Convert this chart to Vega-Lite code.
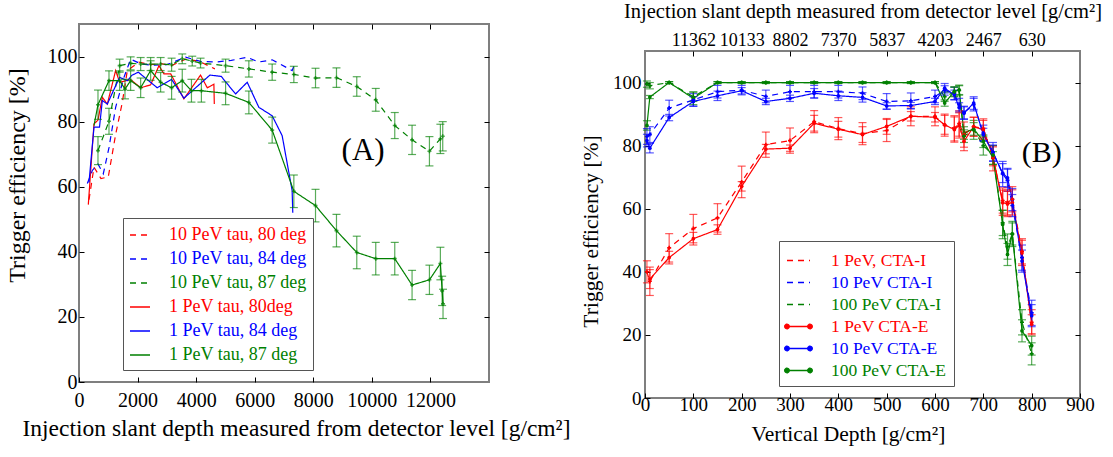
{
"$schema":"https://vega.github.io/schema/vega-lite/v6.json",
"background":"white",
"padding":{"left":4,"top":0,"right":0,"bottom":0},
"config":{
 "font":"Liberation Serif",
 "view":{"stroke":"#7f7f7f","strokeWidth":2},
 "axis":{"domain":false,"grid":false,"tickColor":"#000000","tickSize":-5,"tickWidth":1,"labelColor":"#000000","titleColor":"#000000","titleFontWeight":"normal","labelFont":"Liberation Serif","titleFont":"Liberation Serif","labelFlush":false,"labelOverlap":false,"labelBound":false},
 "legend":{"labelFont":"Liberation Serif","titleFont":"Liberation Serif"}
},
"datasets":{
"left":[
{"series":"10 PeV tau, 80 deg","x":341,"y":56},{"series":"10 PeV tau, 80 deg","x":512,"y":66},{"series":"10 PeV tau, 80 deg","x":750,"y":62.5},{"series":"10 PeV tau, 80 deg","x":1000,"y":63},{"series":"10 PeV tau, 80 deg","x":1250,"y":76},{"series":"10 PeV tau, 80 deg","x":1480,"y":86},{"series":"10 PeV tau, 80 deg","x":1650,"y":95.7},{"series":"10 PeV tau, 80 deg","x":2047,"y":98.3},{"series":"10 PeV tau, 80 deg","x":2450,"y":97.5},{"series":"10 PeV tau, 80 deg","x":2790,"y":97.8},{"series":"10 PeV tau, 80 deg","x":3160,"y":97.2},{"series":"10 PeV tau, 80 deg","x":3640,"y":99.2},{"series":"10 PeV tau, 80 deg","x":4094,"y":98.6},{"series":"10 PeV tau, 80 deg","x":4640,"y":96.2},
{"series":"10 PeV tau, 84 deg","x":284,"y":61},{"series":"10 PeV tau, 84 deg","x":455,"y":65},{"series":"10 PeV tau, 84 deg","x":648,"y":67},{"series":"10 PeV tau, 84 deg","x":830,"y":64},{"series":"10 PeV tau, 84 deg","x":1024,"y":72},{"series":"10 PeV tau, 84 deg","x":1251,"y":84.4},{"series":"10 PeV tau, 84 deg","x":1535,"y":93.6},{"series":"10 PeV tau, 84 deg","x":1763,"y":99.2},{"series":"10 PeV tau, 84 deg","x":2100,"y":97.8},{"series":"10 PeV tau, 84 deg","x":2500,"y":97.3},{"series":"10 PeV tau, 84 deg","x":3000,"y":97.5},{"series":"10 PeV tau, 84 deg","x":3640,"y":99.8},{"series":"10 PeV tau, 84 deg","x":4150,"y":98.5},{"series":"10 PeV tau, 84 deg","x":4650,"y":98.3},{"series":"10 PeV tau, 84 deg","x":5200,"y":98.8},{"series":"10 PeV tau, 84 deg","x":5744,"y":99.8},{"series":"10 PeV tau, 84 deg","x":6130,"y":98.3},{"series":"10 PeV tau, 84 deg","x":6596,"y":99},{"series":"10 PeV tau, 84 deg","x":7278,"y":95.7},{"series":"10 PeV tau, 84 deg","x":7336,"y":97},
{"series":"10 PeV tau, 87 deg","x":648,"y":71.1,"err":4.3},{"series":"10 PeV tau, 87 deg","x":1024,"y":80.1,"err":4},{"series":"10 PeV tau, 87 deg","x":1388,"y":97.2,"err":2},{"series":"10 PeV tau, 87 deg","x":1763,"y":97.9,"err":2},{"series":"10 PeV tau, 87 deg","x":2105,"y":97.7,"err":2},{"series":"10 PeV tau, 87 deg","x":2446,"y":97.7,"err":2},{"series":"10 PeV tau, 87 deg","x":2787,"y":97.7,"err":2},{"series":"10 PeV tau, 87 deg","x":3162,"y":97.5,"err":2},{"series":"10 PeV tau, 87 deg","x":3526,"y":99.3,"err":1.5},{"series":"10 PeV tau, 87 deg","x":3867,"y":98.6,"err":1.5},{"series":"10 PeV tau, 87 deg","x":4150,"y":98,"err":1.5},{"series":"10 PeV tau, 87 deg","x":5005,"y":97.2,"err":2},{"series":"10 PeV tau, 87 deg","x":5800,"y":96.2,"err":2.5},{"series":"10 PeV tau, 87 deg","x":6596,"y":95.2,"err":2.5},{"series":"10 PeV tau, 87 deg","x":7336,"y":94.5,"err":2.5},{"series":"10 PeV tau, 87 deg","x":8076,"y":93.4,"err":3},{"series":"10 PeV tau, 87 deg","x":8792,"y":93.5,"err":3},{"series":"10 PeV tau, 87 deg","x":9485,"y":90.8,"err":3},{"series":"10 PeV tau, 87 deg","x":10133,"y":86.7,"err":3.5},{"series":"10 PeV tau, 87 deg","x":10782,"y":78.8,"err":4},{"series":"10 PeV tau, 87 deg","x":11373,"y":74.4,"err":4.5},{"series":"10 PeV tau, 87 deg","x":11966,"y":70.9,"err":4.5},{"series":"10 PeV tau, 87 deg","x":12340,"y":74.7,"err":4.5},{"series":"10 PeV tau, 87 deg","x":12420,"y":75.5,"err":4.5},
{"series":"1 PeV tau, 80deg","x":318,"y":54.5},{"series":"1 PeV tau, 80deg","x":512,"y":79.3},{"series":"1 PeV tau, 80deg","x":650,"y":80.5},{"series":"1 PeV tau, 80deg","x":796,"y":87.5},{"series":"1 PeV tau, 80deg","x":967,"y":85.4},{"series":"1 PeV tau, 80deg","x":1251,"y":95.7},{"series":"1 PeV tau, 80deg","x":1388,"y":92.1},{"series":"1 PeV tau, 80deg","x":1763,"y":92.9},{"series":"1 PeV tau, 80deg","x":2105,"y":90.4},{"series":"1 PeV tau, 80deg","x":2446,"y":91.3},{"series":"1 PeV tau, 80deg","x":2730,"y":97.2},{"series":"1 PeV tau, 80deg","x":2900,"y":94.7},{"series":"1 PeV tau, 80deg","x":3130,"y":94.7},{"series":"1 PeV tau, 80deg","x":3582,"y":87},{"series":"1 PeV tau, 80deg","x":4150,"y":94.3},{"series":"1 PeV tau, 80deg","x":4380,"y":90.4},{"series":"1 PeV tau, 80deg","x":4606,"y":91.5},{"series":"1 PeV tau, 80deg","x":4620,"y":85.4},
{"series":"1 PeV tau, 84 deg","x":341,"y":61.3},{"series":"1 PeV tau, 84 deg","x":512,"y":78.3},{"series":"1 PeV tau, 84 deg","x":700,"y":78.3},{"series":"1 PeV tau, 84 deg","x":796,"y":86.5},{"series":"1 PeV tau, 84 deg","x":967,"y":85.4},{"series":"1 PeV tau, 84 deg","x":1250,"y":91},{"series":"1 PeV tau, 84 deg","x":1388,"y":93.6},{"series":"1 PeV tau, 84 deg","x":1660,"y":92.6},{"series":"1 PeV tau, 84 deg","x":1800,"y":94.2},{"series":"1 PeV tau, 84 deg","x":2024,"y":95.2},{"series":"1 PeV tau, 84 deg","x":2672,"y":90.4},{"series":"1 PeV tau, 84 deg","x":3162,"y":93},{"series":"1 PeV tau, 84 deg","x":3582,"y":87.2},{"series":"1 PeV tau, 84 deg","x":4470,"y":94.3},{"series":"1 PeV tau, 84 deg","x":4856,"y":93.9},{"series":"1 PeV tau, 84 deg","x":5346,"y":88.5},{"series":"1 PeV tau, 84 deg","x":5744,"y":92.1},{"series":"1 PeV tau, 84 deg","x":6141,"y":84.4},{"series":"1 PeV tau, 84 deg","x":6596,"y":81.8},{"series":"1 PeV tau, 84 deg","x":6937,"y":75.7},{"series":"1 PeV tau, 84 deg","x":7278,"y":58.8},{"series":"1 PeV tau, 84 deg","x":7300,"y":52},
{"series":"1 PeV tau, 87 deg","x":512,"y":78.8},{"series":"1 PeV tau, 87 deg","x":648,"y":85.2,"err":4.5},{"series":"1 PeV tau, 87 deg","x":1024,"y":92.6,"err":3},{"series":"1 PeV tau, 87 deg","x":1388,"y":92.6,"err":3},{"series":"1 PeV tau, 87 deg","x":1570,"y":90,"err":3},{"series":"1 PeV tau, 87 deg","x":1763,"y":92.6,"err":3},{"series":"1 PeV tau, 87 deg","x":2105,"y":90.4,"err":3},{"series":"1 PeV tau, 87 deg","x":2446,"y":95.7,"err":3},{"series":"1 PeV tau, 87 deg","x":2787,"y":92.1,"err":3},{"series":"1 PeV tau, 87 deg","x":3162,"y":90.4,"err":3.5},{"series":"1 PeV tau, 87 deg","x":3526,"y":92.6,"err":3.5},{"series":"1 PeV tau, 87 deg","x":3840,"y":89.5,"err":3.5},{"series":"1 PeV tau, 87 deg","x":4180,"y":89.5,"err":3.5},{"series":"1 PeV tau, 87 deg","x":5005,"y":88.7,"err":3.5},{"series":"1 PeV tau, 87 deg","x":5800,"y":85.9,"err":3.5},{"series":"1 PeV tau, 87 deg","x":6596,"y":77.4,"err":4},{"series":"1 PeV tau, 87 deg","x":7336,"y":58.6,"err":5},{"series":"1 PeV tau, 87 deg","x":8076,"y":54.2,"err":5},{"series":"1 PeV tau, 87 deg","x":8792,"y":46.5,"err":5},{"series":"1 PeV tau, 87 deg","x":9485,"y":39.8,"err":5},{"series":"1 PeV tau, 87 deg","x":10133,"y":37.9,"err":5},{"series":"1 PeV tau, 87 deg","x":10782,"y":37.9,"err":5},{"series":"1 PeV tau, 87 deg","x":11373,"y":29.8,"err":4.5},{"series":"1 PeV tau, 87 deg","x":11966,"y":31.4,"err":4.5},{"series":"1 PeV tau, 87 deg","x":12340,"y":36.4,"err":5},{"series":"1 PeV tau, 87 deg","x":12400,"y":28,"err":4.5},{"series":"1 PeV tau, 87 deg","x":12430,"y":24,"err":4.5}
],
"right":[
{"series":"1 PeV, CTA-I","x":4,"y":40,"err":3.5},{"series":"1 PeV, CTA-I","x":10,"y":37,"err":4.5},{"series":"1 PeV, CTA-I","x":50,"y":47.6,"err":4.5},{"series":"1 PeV, CTA-I","x":100,"y":53.7,"err":4.5},{"series":"1 PeV, CTA-I","x":150,"y":57.1,"err":4.5},{"series":"1 PeV, CTA-I","x":200,"y":68.5,"err":5},{"series":"1 PeV, CTA-I","x":250,"y":80.3,"err":4},{"series":"1 PeV, CTA-I","x":300,"y":81.6,"err":4},{"series":"1 PeV, CTA-I","x":350,"y":87.6,"err":3.5},{"series":"1 PeV, CTA-I","x":400,"y":85.4,"err":3.5},{"series":"1 PeV, CTA-I","x":450,"y":83.8,"err":3.5},{"series":"1 PeV, CTA-I","x":500,"y":84.8,"err":3.5},{"series":"1 PeV, CTA-I","x":550,"y":89.3,"err":3},{"series":"1 PeV, CTA-I","x":600,"y":89.3,"err":3},{"series":"1 PeV, CTA-I","x":620,"y":86.5,"err":3.5},{"series":"1 PeV, CTA-I","x":640,"y":85.5,"err":4},{"series":"1 PeV, CTA-I","x":650,"y":87,"err":4},{"series":"1 PeV, CTA-I","x":660,"y":83.5,"err":4},{"series":"1 PeV, CTA-I","x":680,"y":86,"err":3},{"series":"1 PeV, CTA-I","x":700,"y":85.5,"err":3},{"series":"1 PeV, CTA-I","x":720,"y":76,"err":4},{"series":"1 PeV, CTA-I","x":740,"y":62.6,"err":4},{"series":"1 PeV, CTA-I","x":750,"y":62,"err":4},{"series":"1 PeV, CTA-I","x":760,"y":63,"err":4},{"series":"1 PeV, CTA-I","x":780,"y":46.5,"err":4},{"series":"1 PeV, CTA-I","x":800,"y":24,"err":4},
{"series":"10 PeV CTA-I","x":4,"y":82.9,"err":2.5},{"series":"10 PeV CTA-I","x":10,"y":83.5,"err":2.5},{"series":"10 PeV CTA-I","x":50,"y":91.9,"err":2.5},{"series":"10 PeV CTA-I","x":100,"y":94.5,"err":2},{"series":"10 PeV CTA-I","x":150,"y":97.1,"err":2},{"series":"10 PeV CTA-I","x":200,"y":97.6,"err":1.5},{"series":"10 PeV CTA-I","x":250,"y":95.6,"err":2},{"series":"10 PeV CTA-I","x":300,"y":97.1,"err":2},{"series":"10 PeV CTA-I","x":350,"y":97.1,"err":2},{"series":"10 PeV CTA-I","x":400,"y":97.1,"err":2},{"series":"10 PeV CTA-I","x":450,"y":96.6,"err":2},{"series":"10 PeV CTA-I","x":500,"y":94,"err":2.5},{"series":"10 PeV CTA-I","x":550,"y":94.2,"err":2.5},{"series":"10 PeV CTA-I","x":600,"y":95.6,"err":2},{"series":"10 PeV CTA-I","x":620,"y":97.5,"err":1.5},{"series":"10 PeV CTA-I","x":640,"y":96.5,"err":2},{"series":"10 PeV CTA-I","x":650,"y":93,"err":2},{"series":"10 PeV CTA-I","x":660,"y":90.5,"err":2},{"series":"10 PeV CTA-I","x":680,"y":93,"err":2},{"series":"10 PeV CTA-I","x":700,"y":84,"err":2.5},{"series":"10 PeV CTA-I","x":720,"y":78,"err":3},{"series":"10 PeV CTA-I","x":740,"y":71,"err":4},{"series":"10 PeV CTA-I","x":750,"y":69,"err":3.5},{"series":"10 PeV CTA-I","x":760,"y":61,"err":3.5},{"series":"10 PeV CTA-I","x":780,"y":44.5,"err":4},{"series":"10 PeV CTA-I","x":800,"y":27,"err":4},
{"series":"100 PeV CTA-I","x":4,"y":99.5,"err":1},{"series":"100 PeV CTA-I","x":10,"y":99,"err":1},{"series":"100 PeV CTA-I","x":50,"y":100,"err":0.3},{"series":"100 PeV CTA-I","x":100,"y":95.5,"err":1.5},{"series":"100 PeV CTA-I","x":150,"y":100,"err":0.3},{"series":"100 PeV CTA-I","x":200,"y":100,"err":0.3},{"series":"100 PeV CTA-I","x":250,"y":100,"err":0.3},{"series":"100 PeV CTA-I","x":300,"y":100,"err":0.3},{"series":"100 PeV CTA-I","x":350,"y":100,"err":0.3},{"series":"100 PeV CTA-I","x":400,"y":100,"err":0.3},{"series":"100 PeV CTA-I","x":450,"y":100,"err":0.3},{"series":"100 PeV CTA-I","x":500,"y":100,"err":0.3},{"series":"100 PeV CTA-I","x":550,"y":100,"err":0.3},{"series":"100 PeV CTA-I","x":600,"y":100,"err":0.3},{"series":"100 PeV CTA-I","x":620,"y":95.5,"err":1.5},{"series":"100 PeV CTA-I","x":640,"y":97,"err":1.5},{"series":"100 PeV CTA-I","x":650,"y":97.5,"err":1.5},{"series":"100 PeV CTA-I","x":660,"y":83,"err":2},{"series":"100 PeV CTA-I","x":680,"y":85,"err":3},{"series":"100 PeV CTA-I","x":700,"y":80,"err":3},{"series":"100 PeV CTA-I","x":720,"y":77,"err":3},{"series":"100 PeV CTA-I","x":740,"y":55.5,"err":4},{"series":"100 PeV CTA-I","x":750,"y":48,"err":4},{"series":"100 PeV CTA-I","x":760,"y":52,"err":4},{"series":"100 PeV CTA-I","x":780,"y":24,"err":4},{"series":"100 PeV CTA-I","x":800,"y":14,"err":3.5},
{"series":"1 PeV CTA-E","x":10,"y":37.7,"err":3},{"series":"1 PeV CTA-E","x":50,"y":44.5,"err":2},{"series":"1 PeV CTA-E","x":100,"y":50.5,"err":2},{"series":"1 PeV CTA-E","x":150,"y":53.4,"err":1.5},{"series":"1 PeV CTA-E","x":200,"y":67.1,"err":1.5},{"series":"1 PeV CTA-E","x":250,"y":78.9,"err":1.5},{"series":"1 PeV CTA-E","x":300,"y":79.2,"err":1},{"series":"1 PeV CTA-E","x":350,"y":87.1,"err":2.5},{"series":"1 PeV CTA-E","x":400,"y":85.2,"err":2.5},{"series":"1 PeV CTA-E","x":450,"y":83.5,"err":2.5},{"series":"1 PeV CTA-E","x":500,"y":86.1,"err":2.5},{"series":"1 PeV CTA-E","x":550,"y":89.3,"err":1.5},{"series":"1 PeV CTA-E","x":600,"y":89,"err":1.5},{"series":"1 PeV CTA-E","x":620,"y":86.6,"err":3},{"series":"1 PeV CTA-E","x":640,"y":85.1,"err":4},{"series":"1 PeV CTA-E","x":650,"y":86.4,"err":4},{"series":"1 PeV CTA-E","x":660,"y":81.4,"err":3},{"series":"1 PeV CTA-E","x":680,"y":86,"err":3},{"series":"1 PeV CTA-E","x":700,"y":85,"err":3},{"series":"1 PeV CTA-E","x":720,"y":76.6,"err":3},{"series":"1 PeV CTA-E","x":740,"y":61.9,"err":4},{"series":"1 PeV CTA-E","x":750,"y":61.5,"err":4},{"series":"1 PeV CTA-E","x":760,"y":62,"err":4},{"series":"1 PeV CTA-E","x":780,"y":46,"err":4},{"series":"1 PeV CTA-E","x":800,"y":23.4,"err":3},
{"series":"10 PeV CTA-E","x":4,"y":81.6,"err":2},{"series":"10 PeV CTA-E","x":10,"y":79.2,"err":1.5},{"series":"10 PeV CTA-E","x":50,"y":88.9,"err":1},{"series":"10 PeV CTA-E","x":100,"y":94,"err":1.5},{"series":"10 PeV CTA-E","x":150,"y":95.8,"err":1.5},{"series":"10 PeV CTA-E","x":200,"y":97.4,"err":1},{"series":"10 PeV CTA-E","x":250,"y":94,"err":1},{"series":"10 PeV CTA-E","x":300,"y":95,"err":1},{"series":"10 PeV CTA-E","x":350,"y":96.6,"err":1.5},{"series":"10 PeV CTA-E","x":400,"y":95.8,"err":1.5},{"series":"10 PeV CTA-E","x":450,"y":95.3,"err":1.5},{"series":"10 PeV CTA-E","x":500,"y":92.6,"err":1},{"series":"10 PeV CTA-E","x":550,"y":92.7,"err":1},{"series":"10 PeV CTA-E","x":600,"y":94,"err":1},{"series":"10 PeV CTA-E","x":620,"y":98.2,"err":1.5},{"series":"10 PeV CTA-E","x":640,"y":96.1,"err":1.5},{"series":"10 PeV CTA-E","x":650,"y":92.1,"err":1.5},{"series":"10 PeV CTA-E","x":660,"y":90.3,"err":2},{"series":"10 PeV CTA-E","x":680,"y":93.5,"err":2},{"series":"10 PeV CTA-E","x":700,"y":83.5,"err":2},{"series":"10 PeV CTA-E","x":720,"y":77.7,"err":2.5},{"series":"10 PeV CTA-E","x":740,"y":71.3,"err":3},{"series":"10 PeV CTA-E","x":750,"y":69.8,"err":3},{"series":"10 PeV CTA-E","x":760,"y":62.9,"err":3.5},{"series":"10 PeV CTA-E","x":780,"y":43.4,"err":3.5},{"series":"10 PeV CTA-E","x":800,"y":26.1,"err":3.5},
{"series":"100 PeV CTA-E","x":4,"y":86.4,"err":1.5},{"series":"100 PeV CTA-E","x":10,"y":95.4,"err":0.5},{"series":"100 PeV CTA-E","x":50,"y":100,"err":0.3},{"series":"100 PeV CTA-E","x":100,"y":95,"err":2},{"series":"100 PeV CTA-E","x":150,"y":100,"err":0.3},{"series":"100 PeV CTA-E","x":200,"y":100,"err":0.3},{"series":"100 PeV CTA-E","x":250,"y":100,"err":0.3},{"series":"100 PeV CTA-E","x":300,"y":100,"err":0.3},{"series":"100 PeV CTA-E","x":350,"y":100,"err":0.3},{"series":"100 PeV CTA-E","x":400,"y":100,"err":0.3},{"series":"100 PeV CTA-E","x":450,"y":100,"err":0.3},{"series":"100 PeV CTA-E","x":500,"y":100,"err":0.3},{"series":"100 PeV CTA-E","x":550,"y":100,"err":0.3},{"series":"100 PeV CTA-E","x":600,"y":100,"err":0.3},{"series":"100 PeV CTA-E","x":620,"y":93.5,"err":1},{"series":"100 PeV CTA-E","x":640,"y":97.2,"err":1.5},{"series":"100 PeV CTA-E","x":650,"y":97.7,"err":1.5},{"series":"100 PeV CTA-E","x":660,"y":84,"err":2},{"series":"100 PeV CTA-E","x":680,"y":85.3,"err":2},{"series":"100 PeV CTA-E","x":700,"y":81.4,"err":2},{"series":"100 PeV CTA-E","x":720,"y":76.1,"err":2},{"series":"100 PeV CTA-E","x":740,"y":55,"err":4.5},{"series":"100 PeV CTA-E","x":750,"y":45.5,"err":3.5},{"series":"100 PeV CTA-E","x":760,"y":52,"err":3.5},{"series":"100 PeV CTA-E","x":780,"y":21.3,"err":3.5},{"series":"100 PeV CTA-E","x":800,"y":16.6,"err":3}
]
},
"spacing":8,
"resolve":{"scale":{"color":"independent","strokeDash":"independent"},"legend":{"color":"independent","strokeDash":"independent"}},
"hconcat":[
{
 "width":410,"height":358,
 "data":{"name":"left"},
 "resolve":{"axis":{"x":"independent","y":"independent"}},
 "layer":[
  {"layer":[
   {"mark":{"type":"line","strokeWidth":1.2},
    "encoding":{
     "x":{"field":"x","type":"quantitative","title":"Injection slant depth measured from detector level [g/cm²]","scale":{"domain":[0,14000],"nice":false,"zero":false},
      "axis":{"values":[0,2000,4000,6000,8000,10000,12000],"format":"d","titleFontSize":23.5,"labelFontSize":20,"labelPadding":13.5,"titlePadding":6,"titleX":217}},
     "y":{"field":"y","type":"quantitative","title":"Trigger efficiency [%]","scale":{"domain":[0,110],"nice":false},
      "axis":{"values":[0,20,40,60,80,100],"titleFontSize":24,"labelFontSize":20,"labelPadding":7,"titlePadding":18,"titleY":151}},
     "color":{"field":"series","type":"nominal",
      "scale":{"domain":["10 PeV tau, 80 deg","10 PeV tau, 84 deg","10 PeV tau, 87 deg","1 PeV tau, 80deg","1 PeV tau, 84 deg","1 PeV tau, 87 deg"],"range":["#ff0000","#0000ff","#008000","#ff0000","#0000ff","#008000"]},
      "legend":{"title":null,"orient":"none","legendX":44,"legendY":194,"symbolType":"stroke","symbolSize":400,"symbolStrokeWidth":1.3,"labelFontSize":18,"labelOffset":18,"rowPadding":4,"padding":6,"strokeColor":"#555555","fillColor":"#ffffff","labelLimit":300,
       "encode":{"labels":{"update":{"fill":{"signal":"indexof(datum.label,'80')>=0 ? '#ff0000' : indexof(datum.label,'84')>=0 ? '#0000ff' : '#008000'"}}}}}},
     "strokeDash":{"field":"series","type":"nominal",
      "scale":{"domain":["10 PeV tau, 80 deg","10 PeV tau, 84 deg","10 PeV tau, 87 deg","1 PeV tau, 80deg","1 PeV tau, 84 deg","1 PeV tau, 87 deg"],"range":[[6,5],[6,5],[6,5],[1,0],[1,0],[1,0]]},
      "legend":{"title":null,"orient":"none","legendX":44,"legendY":194,"symbolType":"stroke","symbolSize":400,"symbolStrokeWidth":1.3,"labelFontSize":18,"labelOffset":18,"rowPadding":4,"padding":6,"strokeColor":"#555555","fillColor":"#ffffff","labelLimit":300,
       "encode":{"labels":{"update":{"fill":{"signal":"indexof(datum.label,'80')>=0 ? '#ff0000' : indexof(datum.label,'84')>=0 ? '#0000ff' : '#008000'"}}}}}}
    }},
   {"transform":[{"filter":"isValid(datum.err)"}],
    "mark":{"type":"errorbar","ticks":true,"size":8,"thickness":1.2,"opacity":0.65},
    "encoding":{"x":{"field":"x","type":"quantitative","title":"Injection slant depth measured from detector level [g/cm²]"},"y":{"field":"y","type":"quantitative","title":"Trigger efficiency [%]"},"yError":{"field":"err"},"color":{"field":"series","type":"nominal"}}},
   {"transform":[{"filter":"isValid(datum.err)"}],
    "mark":{"type":"point","shape":"cross","filled":true,"size":16},
    "encoding":{"x":{"field":"x","type":"quantitative","title":"Injection slant depth measured from detector level [g/cm²]"},"y":{"field":"y","type":"quantitative","title":"Trigger efficiency [%]"},"color":{"field":"series","type":"nominal"}}},
   {"data":{"values":[{"x":9700,"y":71,"label":"(A)"}]},
    "mark":{"type":"text","fontSize":31,"font":"Liberation Serif","color":"#000000"},
    "encoding":{"x":{"field":"x","type":"quantitative","title":"Injection slant depth measured from detector level [g/cm²]"},"y":{"field":"y","type":"quantitative","title":"Trigger efficiency [%]"},"text":{"field":"label"}}}
  ]},
  {"mark":{"type":"point","opacity":0},
   "encoding":{
    "x":{"field":"x","type":"quantitative","scale":{"domain":[0,14000],"nice":false,"zero":false},"axis":{"orient":"top","values":[2000,4000,6000,8000,10000,12000],"labels":false,"title":null}},
    "y":{"field":"y","type":"quantitative","scale":{"domain":[0,110],"nice":false},"axis":{"orient":"right","values":[20,40,60,80,100],"labels":false,"title":null}}
   }}
 ]
},
{
 "bounds":"flush",
 "spacing":10,
 "vconcat":[
 {"width":435,"height":17,"view":{"stroke":null},"data":{"values":[{}]},"mark":{"type":"point","opacity":0},"encoding":{}},
 {
 "width":435,"height":347,
 "data":{"name":"right"},
 "resolve":{"axis":{"x":"independent","y":"independent"}},
 "layer":[
  {"layer":[
   {"mark":{"type":"line","strokeWidth":1.2},
    "encoding":{
     "x":{"field":"x","type":"quantitative","title":"Vertical Depth [g/cm²]","scale":{"domain":[0,900],"nice":false,"zero":false},
      "axis":{"values":[0,100,200,300,400,500,600,700,800,900],"format":"d","titleFontSize":21.5,"labelFontSize":19,"labelPadding":2.5,"titlePadding":9,"titleX":203}},
     "y":{"field":"y","type":"quantitative","title":"Trigger efficiency [%]","scale":{"domain":[0,110],"nice":false},
      "axis":{"values":[0,20,40,60,80,100],"titleFontSize":21.5,"labelFontSize":19,"labelPadding":9,"titlePadding":10,"titleY":180}},
     "color":{"field":"series","type":"nominal",
      "scale":{"domain":["1 PeV, CTA-I","10 PeV CTA-I","100 PeV CTA-I","1 PeV CTA-E","10 PeV CTA-E","100 PeV CTA-E"],"range":["#ff0000","#0000ff","#008000","#ff0000","#0000ff","#008000"]},
      "legend":{"title":null,"orient":"none","legendX":134,"legendY":217,"symbolType":"stroke","symbolSize":529,"symbolStrokeWidth":1.3,"labelFontSize":17.5,"labelOffset":20,"rowPadding":1,"padding":7,"strokeColor":"#555555","fillColor":"#ffffff","labelLimit":300,
       "encode":{"labels":{"update":{"fill":{"signal":"indexof(datum.label,'100 ')==0 ? '#008000' : indexof(datum.label,'10 ')==0 ? '#0000ff' : '#ff0000'"}}},
        "symbols":{"update":{"shape":{"signal":"indexof(datum.label,'CTA-E')>=0 ? 'M-1,0L1,0M-1.2,0A0.2,0.2,0,1,0,-0.8,0A0.2,0.2,0,1,0,-1.2,0ZM0.8,0A0.2,0.2,0,1,0,1.2,0A0.2,0.2,0,1,0,0.8,0Z' : 'stroke'"},"fill":{"signal":"indexof(datum.label,'CTA-E')<0 ? 'transparent' : indexof(datum.label,'100 ')==0 ? '#008000' : indexof(datum.label,'10 ')==0 ? '#0000ff' : '#ff0000'"},"fillOpacity":{"value":1}}}}}},
     "strokeDash":{"field":"series","type":"nominal",
      "scale":{"domain":["1 PeV, CTA-I","10 PeV CTA-I","100 PeV CTA-I","1 PeV CTA-E","10 PeV CTA-E","100 PeV CTA-E"],"range":[[6,5],[6,5],[6,5],[1,0],[1,0],[1,0]]},
      "legend":{"title":null,"orient":"none","legendX":134,"legendY":217,"symbolType":"stroke","symbolSize":529,"symbolStrokeWidth":1.3,"labelFontSize":17.5,"labelOffset":20,"rowPadding":1,"padding":7,"strokeColor":"#555555","fillColor":"#ffffff","labelLimit":300,
       "encode":{"labels":{"update":{"fill":{"signal":"indexof(datum.label,'100 ')==0 ? '#008000' : indexof(datum.label,'10 ')==0 ? '#0000ff' : '#ff0000'"}}},
        "symbols":{"update":{"shape":{"signal":"indexof(datum.label,'CTA-E')>=0 ? 'M-1,0L1,0M-1.2,0A0.2,0.2,0,1,0,-0.8,0A0.2,0.2,0,1,0,-1.2,0ZM0.8,0A0.2,0.2,0,1,0,1.2,0A0.2,0.2,0,1,0,0.8,0Z' : 'stroke'"},"fill":{"signal":"indexof(datum.label,'CTA-E')<0 ? 'transparent' : indexof(datum.label,'100 ')==0 ? '#008000' : indexof(datum.label,'10 ')==0 ? '#0000ff' : '#ff0000'"},"fillOpacity":{"value":1}}}}}}
    }},
   {"mark":{"type":"errorbar","ticks":true,"size":8,"thickness":1.2,"opacity":0.65},
    "encoding":{"x":{"field":"x","type":"quantitative","title":"Vertical Depth [g/cm²]"},"y":{"field":"y","type":"quantitative","title":"Trigger efficiency [%]"},"yError":{"field":"err"},"color":{"field":"series","type":"nominal"}}},
   {"transform":[{"filter":"indexof(datum.series,'CTA-E')>=0"}],
    "mark":{"type":"point","shape":"circle","filled":true,"size":14,"opacity":1},
    "encoding":{"x":{"field":"x","type":"quantitative","title":"Vertical Depth [g/cm²]"},"y":{"field":"y","type":"quantitative","title":"Trigger efficiency [%]"},"color":{"field":"series","type":"nominal"}}},
   {"transform":[{"filter":"indexof(datum.series,'CTA-I')>=0"}],
    "mark":{"type":"point","shape":"cross","filled":true,"size":16,"opacity":1},
    "encoding":{"x":{"field":"x","type":"quantitative","title":"Vertical Depth [g/cm²]"},"y":{"field":"y","type":"quantitative","title":"Trigger efficiency [%]"},"color":{"field":"series","type":"nominal"}}},
   {"data":{"values":[{"x":821,"y":77.7,"label":"(B)"}]},
    "mark":{"type":"text","fontSize":30,"font":"Liberation Serif","color":"#000000"},
    "encoding":{"x":{"field":"x","type":"quantitative","title":"Vertical Depth [g/cm²]"},"y":{"field":"y","type":"quantitative","title":"Trigger efficiency [%]"},"text":{"field":"label"}}}
  ]},
  {"mark":{"type":"point","opacity":0},
   "encoding":{
    "x":{"field":"x","type":"quantitative","scale":{"domain":[0,900],"nice":false,"zero":false},
     "axis":{"orient":"top","values":[100,200,300,400,500,600,700,800],"labelExpr":"['11362','10133','8802','7370','5837','4203','2467','630'][datum.value/100-1]","title":"Injection slant depth measured from detector level [g/cm²]","titleFontSize":20.5,"labelFontSize":18,"labelPadding":7,"titlePadding":9.5,
      "encode":{"labels":{"update":{"dx":{"signal":"datum.value==100 ? -12 : datum.value==200 ? -7 : 0"}}}}}},
    "y":{"field":"y","type":"quantitative","scale":{"domain":[0,110],"nice":false},"axis":{"orient":"right","values":[20,40,60,80,100],"labels":false,"title":null}}
   }}
 ]
 }
 ]
}
]
}
